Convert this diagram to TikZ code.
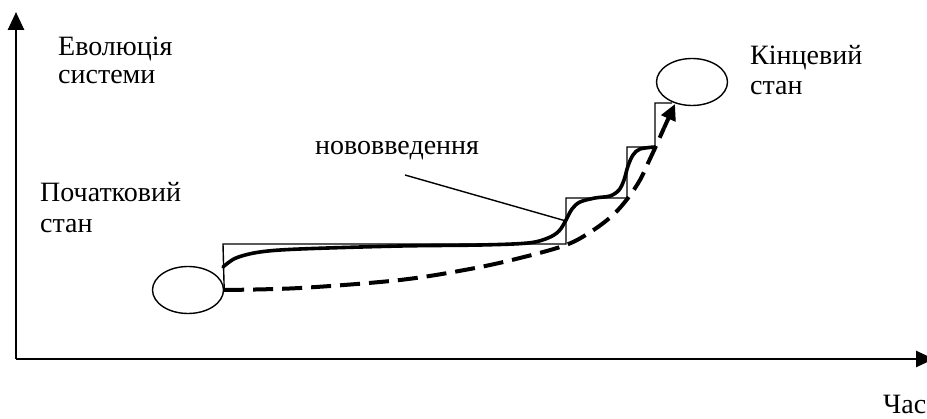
\documentclass[tikz,border=0pt]{standalone}
\usepackage{fontspec}
\setmainfont{Liberation Serif}
\usetikzlibrary{arrows.meta,shapes.geometric}
\begin{document}
\begin{tikzpicture}[x=1pt,y=-1pt,
  lbl/.style={anchor=base west,inner sep=0pt,font=\fontsize{28}{30}\selectfont},
  state/.style={draw,ellipse,line width=1.4pt,minimum width=71pt,minimum height=47pt,inner sep=0pt},
  axisline/.style={line width=2.6pt,-{Triangle[length=18pt,width=16pt]}},
  thin/.style={line width=1.4pt},
  thickcurve/.style={line width=3.6pt,line cap=round},
  dashcurve/.style={line width=4pt,dash pattern=on 20pt off 9pt}]
\useasboundingbox (0,0) rectangle (927,419);
\clip (0,0) rectangle (927,419);
% axes
\coordinate (O) at (16,359);
\coordinate (Ytop) at (16,12);
\coordinate (Xend) at (934,359);
\draw[axisline] (O) -- (Ytop);
\draw[axisline] (O) -- (Xend);
% labels
\node[lbl] (evo1) at (58,56) {Еволюція};
\node[lbl] (evo2) at (58,84) {системи};
\node[lbl] (end1) at (750,65) {Кінцевий};
\node[lbl] (end2) at (750,95) {стан};
\node[lbl] (inn) at (315,155) {нововведення};
\node[lbl] (start1) at (40,202) {Початковий};
\node[lbl] (start2) at (40,233) {стан};
\node[lbl] (time) at (883,414) {Час};
% states
\node[state] (s0) at (188,290) {};
\node[state] (s1) at (692,82) {};
% steps
\coordinate (st1) at (566,244);
\draw[thin] (s0.east) -- (223,244) -- (st1) -- (566,198) -- (627,198) -- (627,147) -- (655,147) -- (655,103) -- (672,103);
% innovation pointer
\coordinate (innstart) at (405,175);
\coordinate (innend) at (566,221);
\draw[thin] (innstart) -- (innend);
% solid evolution curve
\draw[thickcurve] plot[smooth,tension=0.55] coordinates {(223,267) (236,258) (260,252) (300,249) (400,246) (480,245) (528,243) (548,238) (559,231) (566,220) (572,209) (580,202) (595,198) (610,196) (619,190) (624,180) (628,166) (633,155) (640,149) (655,147)};
% dashed evolution arrow
\coordinate (tip) at (675,104);
\draw[dashcurve] plot[smooth,tension=0.55] coordinates {(s0.east) (300,288) (400,280) (470,269) (520,258) (566,245) (592,231) (613,215) (628,198) (640,180) (649,161) (656,146) (664,128)};
\draw[line width=4pt,-{Triangle[length=16pt,width=15pt]}] (664,128) -- (tip);
\end{tikzpicture}
\end{document}
